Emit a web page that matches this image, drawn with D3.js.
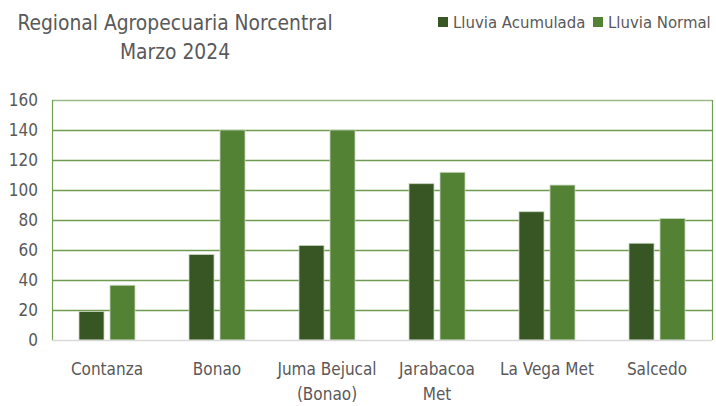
<!DOCTYPE html>
<html><head><meta charset="utf-8">
<script src="https://cdn.jsdelivr.net/npm/d3@7"></script>
<style>
html,body{margin:0;padding:0;background:#fff;}
text{font-family:"Liberation Sans Narrow","DejaVu Sans Condensed",sans-serif;fill:#595959;}
</style></head>
<body><svg id="c" width="716" height="406"></svg>
<script>
const categories = ["Contanza","Bonao","Juma Bejucal\n(Bonao)","Jarabacoa\nMet","La Vega Met","Salcedo"];
const seriesNames = ["Lluvia Acumulada","Lluvia Normal"];
const lluviaAcumulada = [19, 57, 63, 104.2, 85.5, 64.5];
const lluviaNormal = [36.5, 140, 140, 111.8, 103.3, 81];
const yTicks = [0,20,40,60,80,100,120,140,160];
const titleLines = ["Regional Agropecuaria Norcentral","Marzo 2024"];
const colors = ["#375623","#548235"];

const svg = d3.select("#c");
const m = {l:52, r:712, t:100, b:340};
const x = d3.scaleBand().domain(categories).range([m.l,m.r]).paddingInner(0).paddingOuter(0);
const y = d3.scaleLinear().domain([0,160]).range([m.b,m.t]);
const barW = 25, gap = 6;

// gridlines
svg.append("g").selectAll("line").data(yTicks.filter(d=>d>0)).join("line")
  .attr("x1",m.l).attr("x2",m.r).attr("y1",d=>y(d)+0.5).attr("y2",d=>y(d)+0.5)
  .attr("stroke",d=>d===160?"#9bb98a":"#6f9a52").attr("stroke-width",1.5);
// left and right border
svg.append("line").attr("x1",m.l+0.5).attr("x2",m.l+0.5).attr("y1",m.t).attr("y2",m.b).attr("stroke","#70a04f").attr("stroke-width",1.2);
svg.append("line").attr("x1",m.r+0.5).attr("x2",m.r+0.5).attr("y1",m.t).attr("y2",m.b).attr("stroke","#70a04f").attr("stroke-width",1.2);

// bars
const data = categories.map((c,i)=>({c, vals:[lluviaAcumulada[i], lluviaNormal[i]]}));
const g = svg.append("g").selectAll("g").data(data).join("g")
  .attr("transform",d=>`translate(${x(d.c)+x.bandwidth()/2-(barW*2+gap)/2},0)`);
g.selectAll("rect").data(d=>d.vals.map((v,k)=>({v,k}))).join("rect")
  .attr("x",d=>d.k*(barW+gap)).attr("width",barW)
  .attr("y",d=>y(d.v)).attr("height",d=>y(0)-y(d.v))
  .attr("fill",d=>colors[d.k]).attr("stroke","#c9d6c0").attr("stroke-width",0.8);

// baseline
svg.append("line").attr("x1",m.l).attr("x2",m.r).attr("y1",m.b+0.5).attr("y2",m.b+0.5).attr("stroke","#d9d9d9").attr("stroke-width",1.5);

// y axis labels
const yAxis = d3.axisLeft(y).tickValues(yTicks).tickSize(0).tickPadding(0);
const ya = svg.append("g").attr("transform",`translate(38,0)`).call(yAxis);
ya.select(".domain").remove();
ya.selectAll("text").attr("font-size",17).attr("fill","#595959").attr("dy","0.35em")
  .style("font-family",'"Liberation Sans Narrow","DejaVu Sans Condensed",sans-serif');

// x labels
const xl = svg.append("g").selectAll("text").data(categories).join("text")
  .attr("x",d=>x(d)+x.bandwidth()/2).attr("y",375).attr("text-anchor","middle").attr("font-size",17);
xl.each(function(d){
  const lines=d.split("\n");
  d3.select(this).selectAll("tspan").data(lines).join("tspan")
    .attr("x",x(d)+x.bandwidth()/2).attr("dy",(l,i)=>i?25:0).text(l=>l);
});

// title
svg.append("g").selectAll("text").data(titleLines).join("text")
  .attr("x",175).attr("y",(d,i)=>30+i*29).attr("text-anchor","middle").attr("font-size",20.8).text(d=>d);

// legend
const legX = [438, 593];
const lg = svg.append("g").selectAll("g").data(seriesNames).join("g")
  .attr("transform",(d,i)=>`translate(${legX[i]},0)`);
lg.append("rect").attr("x",0).attr("y",17).attr("width",10).attr("height",10).attr("fill",(d,i)=>colors[i]);
lg.append("text").attr("x",15).attr("y",28).attr("font-size",16.6).text(d=>d);
</script></body></html>
